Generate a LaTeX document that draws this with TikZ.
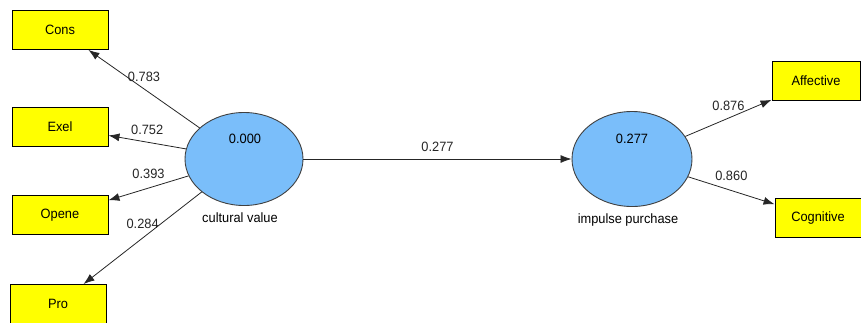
\documentclass[tikz,border=0pt]{standalone}
\usepackage{fontspec}
\setmainfont[FakeStretch=0.95]{Liberation Sans}
\usetikzlibrary{shapes,arrows.meta,positioning}
\definecolor{lvblue}{RGB}{122,190,250}
\definecolor{mvyellow}{RGB}{255,255,0}

\begin{document}
\begin{tikzpicture}[x=1pt, y=-1pt, font=\fontsize{13.5}{15}\selectfont]
  \tikzstyle{indicator} = [rectangle, draw, fill=mvyellow, line width=0.9pt,
    minimum width=96pt, minimum height=39pt, inner sep=0pt]
  \tikzstyle{latent} = [ellipse, draw=black!75, fill=lvblue, line width=0.9pt,
    minimum width=118pt, minimum height=93pt, inner sep=0pt]
  \tikzstyle{line} = [draw, black!85, line width=0.8pt, -{Latex[length=11pt,width=8pt]}]
  \tikzstyle{weight} = [above=7pt, pos=0.5, inner sep=0pt, text=black!85]

  \useasboundingbox (0,0) rectangle (861,322);

  % Place nodes
  \node [indicator] (cons) at (60,30) {Cons};
  \node [indicator] (exel) at (60,127) {Exel};
  \node [indicator] (opene) at (60,215) {Opene};
  \node [indicator] (pro) at (58,304) {Pro};

  \node [latent] (cv) at (244,159) {};
  \node [latent, minimum width=120pt, minimum height=95pt] (ip) at (632,159) {};

  \node [indicator, minimum width=88pt] (aff) at (816,81) {Affective};
  \node [indicator, minimum width=86pt] (cog) at (818,218) {Cognitive};

  \node (cvval) at (245,139) {0.000};
  \node (ipval) at (632,139) {0.277};
  \node [below=3pt of cv, xshift=-4pt] (cvname) {cultural value};
  \node [below=3pt of ip, xshift=-4pt] (ipname) {impulse purchase};

  % Draw edges
  \path [line] (cv) -- node [weight] {0.783} (cons);
  \path [line] (cv) -- node [weight] {0.752} (exel);
  \path [line] (cv) -- node [weight, above=9pt] {0.393} (opene);
  \path [line] (cv) -- node [weight, above=9pt] {0.284} (pro);
  \path [line] (cv) -- node [weight] {0.277} (ip);
  \path [line] (ip) -- node [weight] {0.876} (aff);
  \path [line] (ip) -- node [weight, above=9pt] {0.860} (cog);

\end{tikzpicture}
\end{document}
